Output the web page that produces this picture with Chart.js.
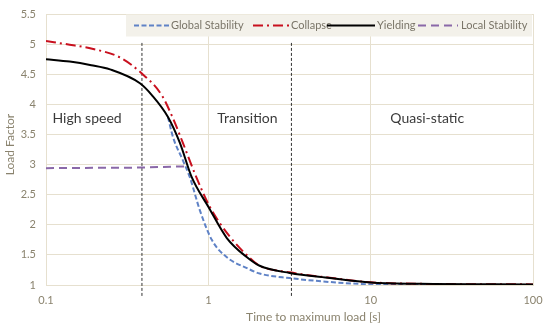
<!DOCTYPE html>
<html>
<head>
<meta charset="utf-8">
<script src="https://cdn.jsdelivr.net/npm/chart.js@4/dist/chart.umd.min.js"></script>
<style>
  html, body { margin: 0; padding: 0; background: #ffffff; }
  #wrap { width: 545px; height: 329px; }
</style>
</head>
<body>
<div id="wrap"><canvas id="c" width="545" height="329"></canvas></div>
<script>
// ---- data ----
const seriesNames = ['Global Stability', 'Collapse', 'Yielding', 'Local Stability'];

const globalT = [0.564, 0.605, 0.697, 0.769, 0.887, 1.05, 1.3, 1.73, 2.07, 3.17, 5.6, 10, 20, 100];
const globalY = [3.79, 3.46, 3.07, 2.79, 2.24, 1.75, 1.46, 1.28, 1.19, 1.115, 1.05, 1.01, 1.0, 1.0];

const collapseT = [0.1, 0.14, 0.187, 0.285, 0.379, 0.517, 0.605, 0.697, 0.826, 1.02, 1.36, 1.8, 2.07, 3.17, 5.6, 10, 20, 100];
const collapseY = [5.05, 4.99, 4.93, 4.78, 4.54, 4.15, 3.77, 3.36, 2.85, 2.30, 1.80, 1.45, 1.32, 1.21, 1.12, 1.045, 1.02, 1.01];

const yieldT = [0.1, 0.14, 0.19, 0.248, 0.379, 0.45, 0.564, 0.668, 0.79, 1.0, 1.3, 1.73, 2.07, 3.17, 5.6, 10, 20, 100];
const yieldY = [4.75, 4.71, 4.65, 4.58, 4.35, 4.15, 3.79, 3.36, 2.79, 2.30, 1.78, 1.46, 1.32, 1.20, 1.115, 1.04, 1.02, 1.01];

const localT = [0.1, 0.39, 0.716];
const localY = [2.94, 2.95, 2.97];

// regime boundaries (vertical dashed lines)
const boundaryT = [0.39, 3.25];
const boundaryYTop = 5.02;
const boundaryYBottom = 0.81;

// region labels
const regionLabels = ['High speed', 'Transition', 'Quasi-static'];
const regionT = [0.179, 1.74, 22.3];
const regionY = [3.77, 3.77, 3.77];

// axis ticks and titles
const xTicks = [0.1, 1, 10, 100];
const xTickLabels = ['0.1', '1', '10', '100'];
const yMin = 1, yMax = 5.5, yStep = 0.5;
const xTitle = 'Time to maximum load [s]';
const yTitle = 'Load Factor';

const toPts = (xs, ys) => xs.map((x, i) => ({ x: x, y: ys[i] }));

const FONT = 'Lato, "Open Sans", "Noto Sans", sans-serif';
const TICK_COLOR = '#8a836e';
const GRID_COLOR = '#e6e0cf';

const colors = ['#5f82c6', '#c8101e', '#000000', '#8a68a8'];
const dashes = [[5, 2.5], [10, 4, 2, 4], [], [8, 5]];

const datasets = [
  { label: seriesNames[0], data: toPts(globalT, globalY), borderColor: colors[0], borderDash: dashes[0], borderWidth: 2, order: 4, cubicInterpolationMode: 'monotone' },
  { label: seriesNames[1], data: toPts(collapseT, collapseY), borderColor: colors[1], borderDash: dashes[1], borderWidth: 2, order: 3, cubicInterpolationMode: 'monotone' },
  { label: seriesNames[2], data: toPts(yieldT, yieldY), borderColor: colors[2], borderDash: dashes[2], borderWidth: 2, order: 2, cubicInterpolationMode: 'monotone' },
  { label: seriesNames[3], data: toPts(localT, localY), borderColor: colors[3], borderDash: dashes[3], borderWidth: 2, order: 1, tension: 0 },
];
boundaryT.forEach((t, i) => {
  datasets.push({
    label: 'boundary' + i,
    data: [{ x: t, y: boundaryYTop }, { x: t, y: boundaryYBottom }],
    borderColor: '#333333', borderDash: [3, 2], borderWidth: 1, order: 5, tension: 0, clip: false
  });
});
datasets.forEach(d => { d.showLine = true; d.pointRadius = 0; d.pointHoverRadius = 0; d.fill = false; });

const overlay = {
  id: 'overlay',
  afterDatasetsDraw(chart) {
    const ctx = chart.ctx;
    const xs = chart.scales.x, ys = chart.scales.y;
    const area = chart.chartArea;
    ctx.save();
    // region labels
    ctx.fillStyle = '#3a3a3a';
    ctx.font = '14px ' + FONT;
    ctx.textAlign = 'center';
    ctx.textBaseline = 'middle';
    regionLabels.forEach((txt, i) => {
      ctx.fillText(txt, xs.getPixelForValue(regionT[i]), ys.getPixelForValue(regionY[i]));
    });
    // axis titles
    ctx.fillStyle = TICK_COLOR;
    ctx.font = '12px ' + FONT;
    ctx.fillText(xTitle, 313.5, 317);
    ctx.save();
    ctx.translate(10, 144.5);
    ctx.rotate(-Math.PI / 2);
    ctx.font = '12px ' + FONT;
    ctx.fillText(yTitle, 0, 0);
    ctx.restore();
    // legend box
    const top = area.top + 0.5, bottom = area.top + 22.5;
    ctx.fillStyle = '#f3f1ea';
    ctx.fillRect(126, top, area.right - 1 - 126, bottom - top);
    const items = [
      { i: 0, l0: 134, l1: 169, tx: 171 },
      { i: 1, l0: 253, l1: 289, tx: 291 },
      { i: 2, l0: 327, l1: 375, tx: 377 },
      { i: 3, l0: 418, l1: 458, tx: 461 },
    ];
    const cy = (top + bottom) / 2;
    ctx.font = '11px ' + FONT;
    ctx.textAlign = 'left';
    items.forEach(it => {
      ctx.beginPath();
      ctx.setLineDash(dashes[it.i]);
      ctx.strokeStyle = colors[it.i];
      ctx.lineWidth = 2;
      ctx.moveTo(it.l0, cy);
      ctx.lineTo(it.l1, cy);
      ctx.stroke();
      ctx.setLineDash([]);
      ctx.fillStyle = '#7a7568';
      ctx.fillText(seriesNames[it.i], it.tx, cy);
    });
    ctx.restore();
  }
};

new Chart(document.getElementById('c'), {
  type: 'scatter',
  data: { datasets: datasets },
  options: {
    responsive: false,
    animation: false,
    devicePixelRatio: 1,
    layout: { padding: { top: 14, right: 12, left: 0, bottom: 0 } },
    plugins: { legend: { display: false }, tooltip: { enabled: false } },
    scales: {
      x: {
        type: 'logarithmic',
        min: 0.1, max: 100,
        afterBuildTicks: (s) => { s.ticks = xTicks.map(v => ({ value: v })); },
        afterFit: (s) => { s.height = 44; s.paddingLeft = 0; s.paddingRight = 0; },
        ticks: {
          color: TICK_COLOR, font: { family: FONT, size: 11 }, padding: 9,
          autoSkip: false, maxRotation: 0,
          callback: (v) => { const k = xTicks.indexOf(v); return k >= 0 ? xTickLabels[k] : ''; }
        },
        grid: { color: GRID_COLOR, drawTicks: false, lineWidth: 1 },
        border: { color: GRID_COLOR },
        title: { display: false }
      },
      y: {
        min: yMin, max: yMax,
        afterFit: (s) => { s.width = 46; s.paddingTop = 0; s.paddingBottom = 0; },
        ticks: {
          stepSize: yStep, color: TICK_COLOR, font: { family: FONT, size: 11 }, padding: 10,
          callback: (v) => String(v)
        },
        grid: { color: GRID_COLOR, drawTicks: false, lineWidth: 1 },
        border: { color: GRID_COLOR },
        title: { display: false }
      }
    }
  },
  plugins: [overlay]
});
</script>
</body>
</html>
